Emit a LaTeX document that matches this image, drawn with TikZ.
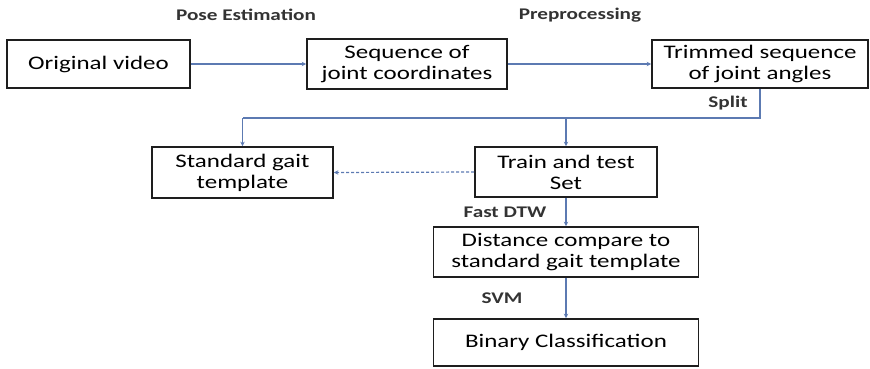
\documentclass[tikz,border=0pt]{standalone}
\usepackage{fontspec}
\setmainfont{Carlito}[FakeStretch=1.3]
\usetikzlibrary{arrows.meta}
\definecolor{conn}{RGB}{92,122,178}
\definecolor{boxline}{RGB}{30,30,30}
\begin{document}
\begin{tikzpicture}[x=1pt,y=-1pt,
  box/.style={draw=boxline,line width=1.7pt,inner sep=0pt,align=center,
    font=\fontsize{19.2}{21}\selectfont},
  lbl/.style={font=\fontsize{16.3}{18}\selectfont\bfseries,text=black!80,inner sep=0pt},
  conn/.style={draw=conn,line width=1.2pt,-{Stealth[length=4.5pt,width=4.5pt]}}]
\useasboundingbox (0,0) rectangle (870,368);
\node[box,minimum width=183pt,minimum height=48pt] (orig) at (98.5,64) {Original video};
\node[box,minimum width=200pt,minimum height=50pt] (seq) at (407,64) {Sequence of\\joint coordinates};
\node[box,minimum width=216pt,minimum height=48pt] (trim) at (760,64) {Trimmed sequence\\of joint angles};
\node[box,minimum width=181pt,minimum height=51pt] (std) at (242.5,172.5) {Standard gait\\template};
\node[box,minimum width=182pt,minimum height=50pt] (train) at (566,172) {Train and test\\Set};
\node[box,minimum width=265pt,minimum height=50pt] (dist) at (566,252) {Distance compare to\\standard gait template};
\node[box,minimum width=265pt,minimum height=47pt] (bin) at (566,342.5) {Binary Classification};

\node[lbl] (lpose) at (246,15) {Pose Estimation};
\node[lbl] (lpre) at (580,15) {Preprocessing};
\node[lbl] (lsplit) at (728,103) {Split};
\node[lbl] (lfast) at (505,212) {Fast DTW};
\node[lbl] (lsvm) at (502,298) {SVM};

\coordinate (sy) at (0,118);
\draw[conn] (orig.east) -- (seq.west);
\draw[conn] (seq.east) -- (trim.west);
\draw[draw=conn,line width=1.2pt] (trim.south) -- (trim.south |- sy) -- (std.north |- sy);
\draw[conn] (std.north |- sy) -- (std.north);
\draw[conn] (train.north |- sy) -- (train.north);
\draw[conn,densely dashed] (train.west) -- (std.east);
\draw[conn] (train.south) -- (dist.north);
\draw[conn] (dist.south) -- (bin.north);
\end{tikzpicture}
\end{document}
